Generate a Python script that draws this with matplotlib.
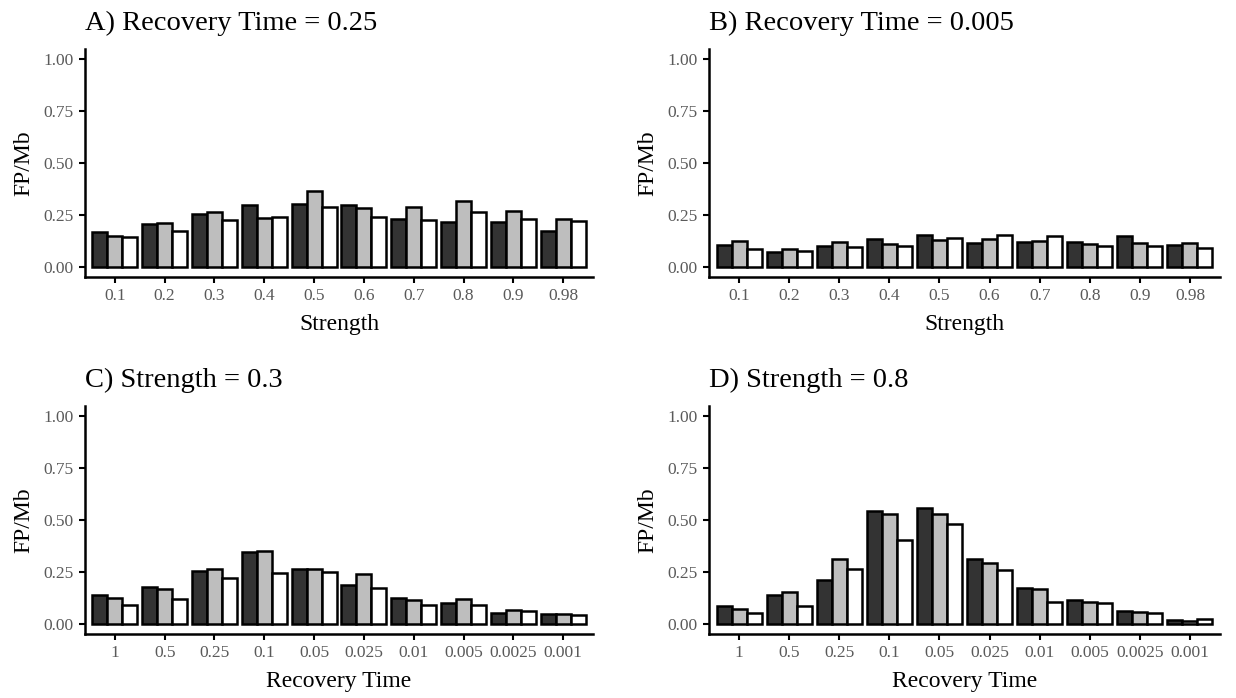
import numpy as np
import matplotlib
matplotlib.use("Agg")
import matplotlib.pyplot as plt

plt.rcParams['font.family'] = ['Liberation Serif', 'DejaVu Serif']

strength_labels = ['0.1', '0.2', '0.3', '0.4', '0.5', '0.6', '0.7', '0.8', '0.9', '0.98']
recovery_labels = ['1', '0.5', '0.25', '0.1', '0.05', '0.025', '0.01', '0.005', '0.0025', '0.001']

# panel A: Recovery Time = 0.25 (three series per group)
a_s1 = [0.165, 0.206, 0.256, 0.295, 0.300, 0.295, 0.229, 0.213, 0.216, 0.174]
a_s2 = [0.150, 0.210, 0.266, 0.237, 0.366, 0.284, 0.287, 0.315, 0.268, 0.232]
a_s3 = [0.144, 0.174, 0.224, 0.240, 0.287, 0.239, 0.223, 0.263, 0.229, 0.221]

# panel B: Recovery Time = 0.005
b_s1 = [0.105, 0.072, 0.098, 0.134, 0.151, 0.114, 0.118, 0.119, 0.150, 0.105]
b_s2 = [0.124, 0.084, 0.121, 0.108, 0.127, 0.132, 0.122, 0.108, 0.114, 0.114]
b_s3 = [0.085, 0.074, 0.095, 0.098, 0.139, 0.153, 0.147, 0.098, 0.098, 0.089]

# panel C: Strength = 0.3
c_s1 = [0.137, 0.176, 0.255, 0.345, 0.263, 0.185, 0.126, 0.098, 0.050, 0.045]
c_s2 = [0.126, 0.166, 0.265, 0.350, 0.263, 0.240, 0.116, 0.119, 0.065, 0.048]
c_s3 = [0.089, 0.119, 0.221, 0.242, 0.250, 0.174, 0.092, 0.092, 0.061, 0.040]

# panel D: Strength = 0.8
d_s1 = [0.087, 0.137, 0.211, 0.544, 0.560, 0.311, 0.174, 0.116, 0.061, 0.018]
d_s2 = [0.069, 0.152, 0.311, 0.527, 0.531, 0.292, 0.165, 0.106, 0.055, 0.013]
d_s3 = [0.052, 0.087, 0.263, 0.402, 0.481, 0.258, 0.102, 0.098, 0.050, 0.023]

colors = ['#333333', '#bebebe', '#ffffff']

W, H = 1236, 698
fig = plt.figure(figsize=(W / 100, H / 100), dpi=100)


def make_ax(left, top, right, bottom):
    return fig.add_axes([left / W, 1 - bottom / H, (right - left) / W, (bottom - top) / H])


def panel(ax, labels, series, title, xlabel):
    n = len(labels)
    x = np.arange(1, n + 1)
    bw = 0.3
    for k, vals in enumerate(series):
        ax.bar(x + (k - 1) * bw, vals, width=bw, color=colors[k],
               edgecolor='black', linewidth=1.8, zorder=2)
    ax.set_xlim(0.4, n + 0.6)
    ax.set_ylim(-0.05, 1.05)
    ax.set_xticks(x)
    ax.set_xticklabels(labels)
    ax.set_yticks([0, 0.25, 0.5, 0.75, 1.0])
    ax.set_yticklabels(['0.00', '0.25', '0.50', '0.75', '1.00'])
    for s in ['top', 'right']:
        ax.spines[s].set_visible(False)
    for s in ['left', 'bottom']:
        ax.spines[s].set_linewidth(1.8)
    ax.tick_params(axis='both', length=4, width=1.5, colors='black',
                   labelcolor='#5a5a5a', labelsize=12.5, pad=4)
    ax.set_title(title, loc='left', fontsize=20.5, pad=14)
    ax.set_xlabel(xlabel, fontsize=17, labelpad=7)
    ax.set_ylabel('FP/Mb', fontsize=17, labelpad=7)


axA = make_ax(85, 49, 593, 277)
axB = make_ax(709, 49, 1220, 277)
axC = make_ax(85, 406, 593, 634)
axD = make_ax(709, 406, 1220, 634)

panel(axA, strength_labels, [a_s1, a_s2, a_s3], 'A) Recovery Time = 0.25', 'Strength')
panel(axB, strength_labels, [b_s1, b_s2, b_s3], 'B) Recovery Time = 0.005', 'Strength')
panel(axC, recovery_labels, [c_s1, c_s2, c_s3], 'C) Strength = 0.3', 'Recovery Time')
panel(axD, recovery_labels, [d_s1, d_s2, d_s3], 'D) Strength = 0.8', 'Recovery Time')

fig.savefig('out.png', dpi=100, facecolor='white')
